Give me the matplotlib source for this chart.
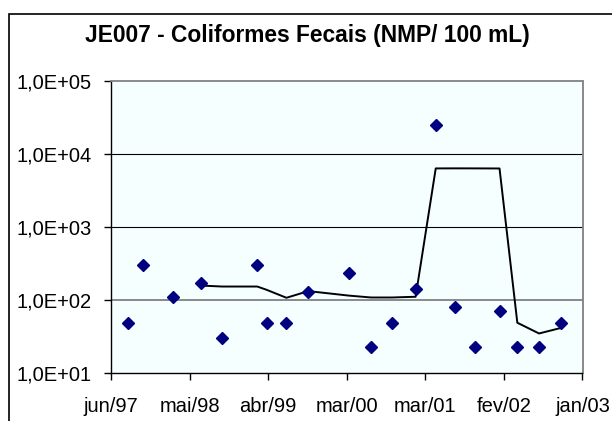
import matplotlib
matplotlib.use("Agg")
import matplotlib.pyplot as plt
import matplotlib.dates as mdates
from matplotlib.patches import Rectangle
from matplotlib.ticker import FixedLocator, FuncFormatter
import numpy as np
import pandas as pd

plt.rcParams['font.family'] = ['Liberation Sans', 'DejaVu Sans']

# --- sampling dates and fecal coliform results (NMP/100 mL) ---
sample_dates = [
    '1997-08-26', '1997-10-30', '1998-03-09', '1998-07-05', '1998-10-06',
    '1999-03-07', '1999-04-17', '1999-07-11', '1999-10-14', '2000-04-07',
    '2000-07-11', '2000-10-10', '2001-01-20', '2001-04-17', '2001-07-09',
    '2001-10-04', '2002-01-18', '2002-04-05', '2002-07-08', '2002-10-09',
]
coliformes = [
    49, 300, 110, 170, 30,
    300, 49, 49, 130, 230,
    23, 49, 140, 25000, 79,
    23, 70, 23, 23, 49,
]

# axis start and spacing of the date ticks (days)
axis_start = '1997-06-12'
tick_step_days = 340
n_ticks = 7

meses = ['jan', 'fev', 'mar', 'abr', 'mai', 'jun',
         'jul', 'ago', 'set', 'out', 'nov', 'dez']

y_ticks = [1e1, 1e2, 1e3, 1e4, 1e5]

dates = pd.to_datetime(sample_dates)
x = mdates.date2num(dates)
serie = pd.Series(coliformes, dtype=float)
# 4-period moving average trend line
media_movel = serie.rolling(4).mean()

x0 = mdates.date2num(pd.Timestamp(axis_start))
x_ticks = x0 + tick_step_days * np.arange(n_ticks)

fig = plt.figure(figsize=(6.12, 4.21), dpi=100)
ax = fig.add_axes([111 / 612, 1 - 373 / 421, 471.5 / 612, 292.3 / 421])
ax.set_facecolor('#F5FFFF')

ax.plot(x, coliformes, linestyle='none', marker='D', markersize=6.3,
        color='#000080', zorder=3)
ax.plot(x, media_movel, color='black', linewidth=1.4, zorder=2)

ax.set_yscale('log')
ax.set_ylim(1e1, 1e5)
ax.yaxis.set_major_locator(FixedLocator(y_ticks))
ax.yaxis.set_minor_locator(FixedLocator([]))
ax.yaxis.set_major_formatter(
    FuncFormatter(lambda v, p: '1,0E+%02d' % int(round(np.log10(v)))))

ax.set_xlim(x_ticks[0], x_ticks[-1])
ax.xaxis.set_major_locator(FixedLocator(x_ticks))


def fmt_data(v, pos):
    d = mdates.num2date(v)
    return '%s/%02d' % (meses[d.month - 1], d.year % 100)


ax.xaxis.set_major_formatter(FuncFormatter(fmt_data))

# horizontal gridlines
for yv in [1e3, 1e4]:
    ax.axhline(yv, color='black', linewidth=0.8, zorder=1)
ax.axhline(1e2, color='#808080', linewidth=1.3, zorder=1)

for side in ['top', 'right']:
    ax.spines[side].set_color('#808080')
    ax.spines[side].set_linewidth(1.3)
for side in ['left', 'bottom']:
    ax.spines[side].set_color('black')
    ax.spines[side].set_linewidth(1.0)

ax.tick_params(axis='both', direction='out', length=5, width=1.0,
               labelsize=14.5, colors='black')
ax.tick_params(axis='y', pad=9)
ax.tick_params(axis='x', pad=12)

fig.text(0.503, 1 - 41.7 / 421, 'JE007 - Coliformes Fecais (NMP/ 100 mL)',
         ha='center', va='baseline', fontsize=16.4, fontweight='bold')

# chart area border
fig.patches.append(Rectangle((9 / 612, -0.1), 2.0, 1 - 14 / 421 + 0.1,
                             transform=fig.transFigure, fill=False,
                             edgecolor='black', linewidth=1.2))

fig.savefig('out.png', dpi=100)
